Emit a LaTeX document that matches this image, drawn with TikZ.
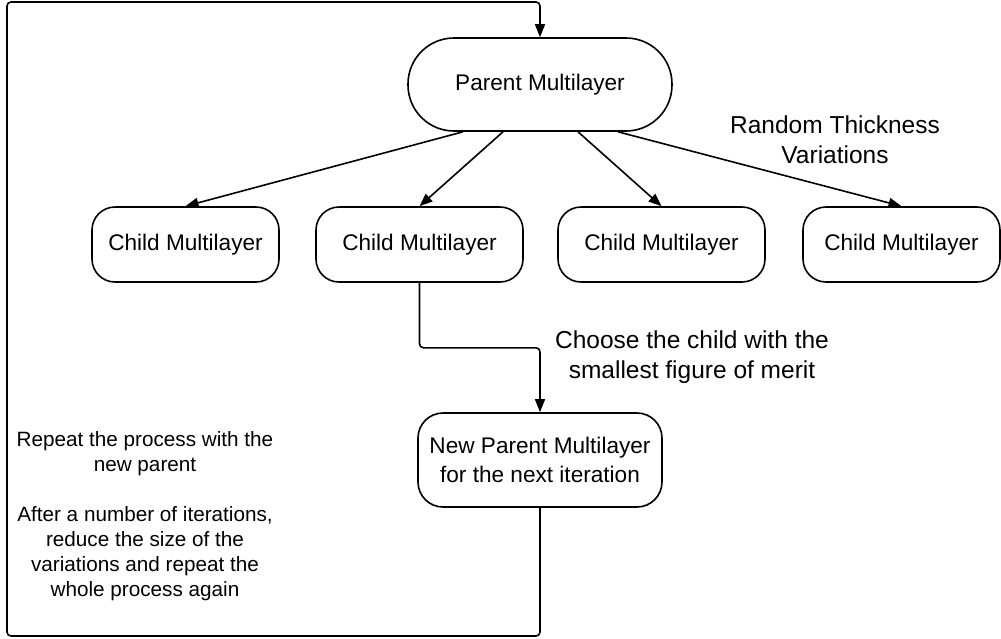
\documentclass[tikz,border=0pt]{standalone}
\usepackage{fontspec}
\setmainfont{Liberation Sans}
\usetikzlibrary{arrows.meta}
\begin{document}
\begin{tikzpicture}[x=1pt,y=-1pt,
  line width=1.6pt,
  arr/.style={-{Triangle[length=13pt,width=10pt]}},
  boxtext/.style={font=\fontsize{22.6}{28.5}\selectfont, align=center},
  stadium/.style={draw, rectangle, rounded corners=46pt, minimum width=264pt, minimum height=93pt, inner sep=0pt, boxtext},
  childbox/.style={draw, rectangle, rounded corners=23pt, minimum height=75pt, inner sep=0pt, boxtext},
  lbl/.style={font=\fontsize{24.5}{30}\selectfont, align=center},
  sidetxt/.style={font=\fontsize{20.7}{25}\selectfont, align=center}
]
\useasboundingbox (0,0) rectangle (1001,638);

\node[stadium] (parent) at (540,84.5) {Parent Multilayer};
\node[childbox, minimum width=187pt] (c1) at (185.5,244.5) {Child Multilayer};
\node[childbox, minimum width=207pt] (c2) at (419.5,244.5) {Child Multilayer};
\node[childbox, minimum width=207pt] (c3) at (661.5,244.5) {Child Multilayer};
\node[childbox, minimum width=197pt] (c4) at (901.5,244.5) {Child Multilayer};
\node[childbox, minimum width=244pt, minimum height=94pt, rounded corners=25pt] (newp) at (540,460) {New Parent Multilayer\\for the next iteration};

\node[lbl] (rtv) at (835,140) {Random Thickness\\Variations};
\node[lbl] (choose) at (692,357) {Choose the child with the\\smallest figure of merit};
\node[sidetxt] (side) at (145,516) {Repeat the process with the\\new parent\\[25pt]After a number of iterations,\\reduce the size of the\\variations and repeat the\\whole process again};

\draw[arr] ([xshift=-77pt]parent.south) -- (c1.north);
\draw[arr] ([xshift=-37pt]parent.south) -- (c2.north);
\draw[arr] ([xshift=38pt]parent.south) -- (c3.north);
\draw[arr] ([xshift=78pt]parent.south) -- (c4.north);

\draw[arr, rounded corners=4pt] (c2.south) -- ++(0,65) -| (newp.north);

\coordinate (lb) at (7,636);
\coordinate (lt) at (7,2);
\draw[arr, rounded corners=4pt] (newp.south) |- (lb) -- (lt) -| (parent.north);
\end{tikzpicture}
\end{document}
